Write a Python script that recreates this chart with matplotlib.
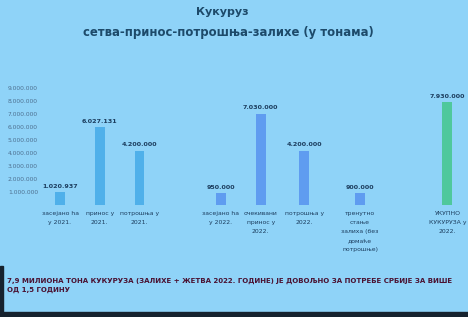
import matplotlib
matplotlib.use("Agg")
import matplotlib.pyplot as plt
from matplotlib.patches import Rectangle

# data
categories = [
    "засејано ha\nу 2021.",
    "принос у\n2021.",
    "потрошња у\n2021.",
    "засејано ha\nу 2022.",
    "очекивани\nпринос у\n2022.",
    "потрошња у\n2022.",
    "тренутно\nстање\nзалиха (без\nдомаће\nпотрошње)",
    "УКУПНО\nКУКУРУЗА у\n2022.",
]
values = [1020937, 6027131, 4200000, 950000, 7030000, 4200000, 900000, 7930000]
positions = [0, 1, 2, 4.05, 5.05, 6.15, 7.55, 9.75]
bar_colors = ["#4fb0ea"] * 3 + ["#5f9cf0"] * 4 + ["#4fc89c"]
yticks = [1000000 * i for i in range(1, 10)]

BG = "#8fd3f8"
NAVY = "#1c3d5e"


def fmt(v):
    return f"{v:,}".replace(",", ".")


fig = plt.figure(figsize=(4.68, 3.17), dpi=100)
fig.patch.set_facecolor(BG)

ax = fig.add_axes([0.09, 0.353, 0.9, 0.369])
ax.set_facecolor(BG)
ax.bar(positions, values, width=0.25, color=bar_colors)
ax.set_ylim(0, 9000000)
ax.set_xlim(-0.45, 10.15)

for x, v in zip(positions, values):
    ax.text(x, v + 250000, fmt(v), ha="center", va="bottom",
            fontsize=4.6, fontweight="bold", color=NAVY)

for x, c in zip(positions, categories):
    ax.text(x, -450000, c, ha="center", va="top", fontsize=4.4,
            color=NAVY, linespacing=2.0)

ax.set_yticks(yticks)
ax.set_yticklabels([fmt(t) for t in yticks], fontsize=4.3, color="#4d7090")
ax.set_xticks([])
ax.tick_params(axis="y", length=0, pad=3)
for s in ax.spines.values():
    s.set_visible(False)

fig.text(0.475, 0.962, "Кукуруз", ha="center", va="center", fontsize=8,
         fontweight="bold", color="#1d4a6a")
fig.text(0.487, 0.896, "сетва-принос-потрошња-залихе (у тонама)", ha="center",
         va="center", fontsize=8.4, fontweight="bold", color="#1d4a6a")

fig.text(0.015, 0.1, "7,9 МИЛИОНА ТОНА КУКУРУЗА (ЗАЛИХЕ + ЖЕТВА 2022. ГОДИНЕ) "
         "ЈЕ ДОВОЉНО ЗА ПОТРЕБЕ СРБИЈЕ ЗА ВИШЕ\nОД 1,5 ГОДИНУ",
         ha="left", va="center", fontsize=5.0, fontweight="bold",
         color="#4a1232", linespacing=1.6)

# dark photo edges of the projected slide
fig.patches.append(Rectangle((0, 0), 1, 0.016, transform=fig.transFigure,
                             color="#16222e", zorder=0))
fig.patches.append(Rectangle((0, 0), 0.007, 0.16, transform=fig.transFigure,
                             color="#16222e", zorder=0))

fig.savefig("out.png", dpi=100, facecolor=BG)
